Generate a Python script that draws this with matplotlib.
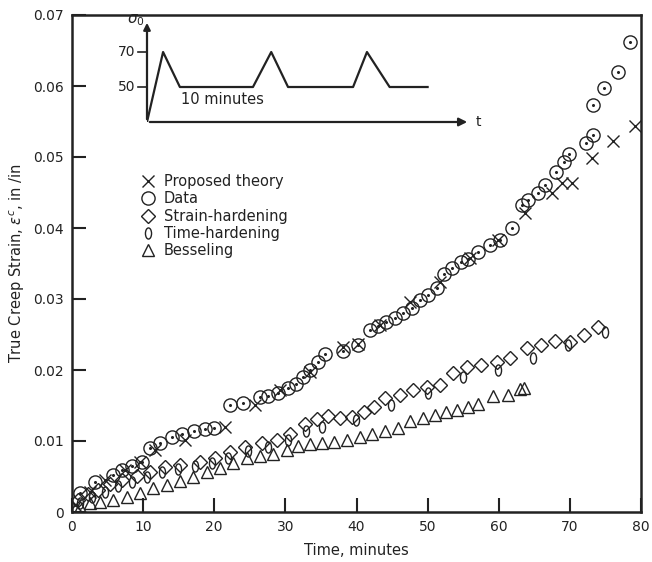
import numpy as np
import matplotlib
matplotlib.use("Agg")
import matplotlib.pyplot as plt
from matplotlib.path import Path
from matplotlib.transforms import Affine2D

# measured creep strain (circles)
data_t = [1.1, 3.2, 5.8, 7.0, 8.4, 9.8, 11.0, 12.4, 14.1, 15.5, 17.2, 18.7, 20.0,
          22.2, 24.1, 26.4, 27.6, 29.0, 30.4, 31.5, 32.5, 33.5, 34.6, 35.6, 38.1,
          40.2, 41.9, 43.0, 44.2, 45.4, 46.6, 47.8, 48.9, 50.1, 51.3, 52.3, 53.4,
          54.7, 55.7, 57.1, 58.8, 60.2, 61.9, 63.3, 64.1, 65.5, 66.5, 68.1, 69.2,
          69.9, 72.2, 73.3, 73.3, 74.8, 76.7, 78.5]
data_e = [0.0027, 0.0042, 0.0052, 0.0059, 0.0065, 0.0070, 0.0090, 0.0097, 0.0106,
          0.0110, 0.0114, 0.0117, 0.0118, 0.0151, 0.0154, 0.0162, 0.0163, 0.0168,
          0.0175, 0.0180, 0.0190, 0.0200, 0.0211, 0.0223, 0.0227, 0.0235, 0.0256,
          0.0262, 0.0268, 0.0273, 0.0280, 0.0287, 0.0299, 0.0306, 0.0315, 0.0335,
          0.0344, 0.0352, 0.0356, 0.0366, 0.0376, 0.0383, 0.0400, 0.0432, 0.0439,
          0.0449, 0.0461, 0.0479, 0.0493, 0.0504, 0.0520, 0.0531, 0.0573, 0.0597,
          0.0620, 0.0662]

# proposed theory (x)
theory_t = [0.4, 2.5, 4.6, 7.5, 9.6, 11.7, 15.9, 21.5, 25.7, 29.3, 33.5, 38.1, 40.2,
            43.3, 47.5, 51.8, 56.0, 59.9, 63.7, 67.5, 68.9, 70.3, 73.1, 76.1, 79.2]
theory_e = [0.0010, 0.0028, 0.0045, 0.0059, 0.0070, 0.0087, 0.0101, 0.0120, 0.0151,
            0.0172, 0.0197, 0.0232, 0.0237, 0.0263, 0.0296, 0.0324, 0.0358, 0.0383,
            0.0421, 0.0449, 0.0463, 0.0463, 0.0499, 0.0523, 0.0544]

# strain-hardening (diamonds)
strain_t = [0.8, 2.3, 3.7, 5.3, 7.0, 9.1, 11.0, 13.1, 15.2, 18.0, 20.1, 22.2, 24.3,
            26.7, 28.8, 30.7, 32.8, 34.5, 36.0, 37.7, 39.4, 41.1, 42.5, 44.0, 46.1,
            48.0, 49.9, 51.8, 53.6, 55.6, 57.5, 59.8, 61.6, 64.0, 66.0, 67.9, 70.0,
            72.0, 74.0]
strain_e = [0.0017, 0.0025, 0.0031, 0.0039, 0.0045, 0.0051, 0.0056, 0.0063, 0.0066,
            0.0070, 0.0076, 0.0085, 0.0092, 0.0097, 0.0101, 0.0110, 0.0124, 0.0131,
            0.0135, 0.0132, 0.0134, 0.0141, 0.0148, 0.0161, 0.0165, 0.0172, 0.0176,
            0.0179, 0.0196, 0.0204, 0.0207, 0.0211, 0.0217, 0.0231, 0.0235, 0.0241,
            0.0239, 0.0249, 0.0261]

# time-hardening (narrow ovals)
time_t = [1.1, 2.8, 4.6, 6.5, 8.4, 10.5, 12.7, 14.9, 17.3, 19.7, 21.9, 24.8, 27.6,
          30.4, 32.9, 35.2, 39.9, 44.9, 50.1, 55.0, 59.9, 64.8, 69.8, 75.0]
time_e = [0.0013, 0.0021, 0.0028, 0.0037, 0.0042, 0.0049, 0.0056, 0.0061, 0.0065,
          0.0069, 0.0076, 0.0086, 0.0092, 0.0101, 0.0114, 0.0120, 0.0130, 0.0151,
          0.0168, 0.0190, 0.0200, 0.0217, 0.0235, 0.0254]

# Besseling (triangles)
bess_t = [1.1, 2.5, 3.9, 5.8, 7.7, 9.6, 11.4, 13.4, 15.2, 17.0, 19.0, 20.8, 22.6,
          24.6, 26.4, 28.3, 30.2, 31.8, 33.5, 35.2, 36.8, 38.7, 40.5, 42.2, 44.0,
          45.9, 47.5, 49.4, 51.1, 52.6, 54.1, 55.7, 57.1, 59.2, 61.3, 63.0, 63.6]
bess_e = [0.0007, 0.0013, 0.0014, 0.0017, 0.0021, 0.0027, 0.0034, 0.0038, 0.0044,
          0.0049, 0.0056, 0.0062, 0.0069, 0.0076, 0.0079, 0.0082, 0.0087, 0.0093,
          0.0096, 0.0097, 0.0099, 0.0101, 0.0106, 0.0110, 0.0114, 0.0118, 0.0128,
          0.0132, 0.0137, 0.0141, 0.0144, 0.0148, 0.0152, 0.0163, 0.0165, 0.0173,
          0.0175]

# stress history sketch (inset)
hist_t = [0, 2.2, 4.5, 14.5, 17.0, 19.3, 28.2, 30.1, 33.2, 38.4]
hist_s = [30, 70, 50, 50, 70, 50, 50, 70, 50, 50]

x_ticks = [0, 10, 20, 30, 40, 50, 60, 70, 80]
y_ticks = [0, 0.01, 0.02, 0.03, 0.04, 0.05, 0.06, 0.07]
y_labels = ["0", "0.01", "0.02", "0.03", "0.04", "0.05", "0.06", "0.07"]

ink = "#222222"
plt.rcParams["font.family"] = "DejaVu Sans"

fig = plt.figure(figsize=(6.52, 5.62), dpi=100)
ax = fig.add_axes([72 / 652, 1 - 512 / 562, 569 / 652, 497 / 562])

oval = Path.unit_circle().transformed(Affine2D().scale(0.55, 1.0))

kw = dict(ls="none", mfc="none", mec=ink, mew=1.0)
ax.plot(theory_t, theory_e, marker="x", ms=8, label="Proposed theory", **kw)
ax.plot(data_t, data_e, marker="o", ms=9.5, label="Data", **kw)
ax.plot(data_t, data_e, ls="none", marker="o", ms=1.2, mfc=ink, mec=ink)
ax.plot(strain_t, strain_e, marker="D", ms=7.5, label="Strain-hardening", **kw)
ax.plot(time_t, time_e, marker=oval, ms=8, label="Time-hardening", **kw)
ax.plot(bess_t, bess_e, marker="^", ms=9, label="Besseling", **kw)

ax.set_xlim(0, 80)
ax.set_ylim(0, 0.07)
ax.set_xticks(x_ticks)
ax.set_yticks(y_ticks)
ax.set_yticklabels(y_labels)
ax.tick_params(direction="in", length=10, width=1.5, labelsize=10, colors=ink, pad=6)
for s in ax.spines.values():
    s.set_linewidth(1.8)
    s.set_color(ink)
ax.set_xlabel("Time, minutes", fontsize=10.5, color=ink, labelpad=6)
ax.set_ylabel("True Creep Strain, $\\epsilon^c$, in /in", fontsize=10.5, color=ink, labelpad=4)

leg = ax.legend(loc="upper left", bbox_to_anchor=(133 / 652, 1 - 167 / 562),
                bbox_transform=fig.transFigure, frameon=False, fontsize=10.5,
                handlelength=1.0, handletextpad=0.6, labelspacing=0.15, borderpad=0)
for t in leg.get_texts():
    t.set_color(ink)

# inset sketch of the loading history
ins = fig.add_axes([147 / 652, 1 - 122 / 562, 323 / 652, 102 / 562])
ins.set_xlim(0, 44.2)
ins.set_ylim(30, 88.3)
ins.axis("off")
ins.plot(hist_t, hist_s, color=ink, lw=1.6)
ins.annotate("", xy=(1.0, 0), xytext=(0, 0), xycoords="axes fraction",
             arrowprops=dict(arrowstyle="-|>", color=ink, lw=1.6, mutation_scale=12))
ins.annotate("", xy=(0, 1.0), xytext=(0, 0), xycoords="axes fraction",
             arrowprops=dict(arrowstyle="-|>", color=ink, lw=1.6, mutation_scale=10))
for v in [70, 50]:
    ins.plot([-1.2, 0], [v, v], color=ink, lw=1.2, clip_on=False)
    ins.text(-1.6, v, str(v), ha="right", va="center", fontsize=10, color=ink)
ins.text(-0.3, 88, "$\\sigma_0$", ha="right", va="center", fontsize=11, color=ink)
ins.text(45.0, 30, "t", ha="left", va="center", fontsize=10, color=ink)
ins.text(4.6, 43, "10 minutes", ha="left", va="center", fontsize=10.5, color=ink)

fig.savefig("out.png", dpi=100)
